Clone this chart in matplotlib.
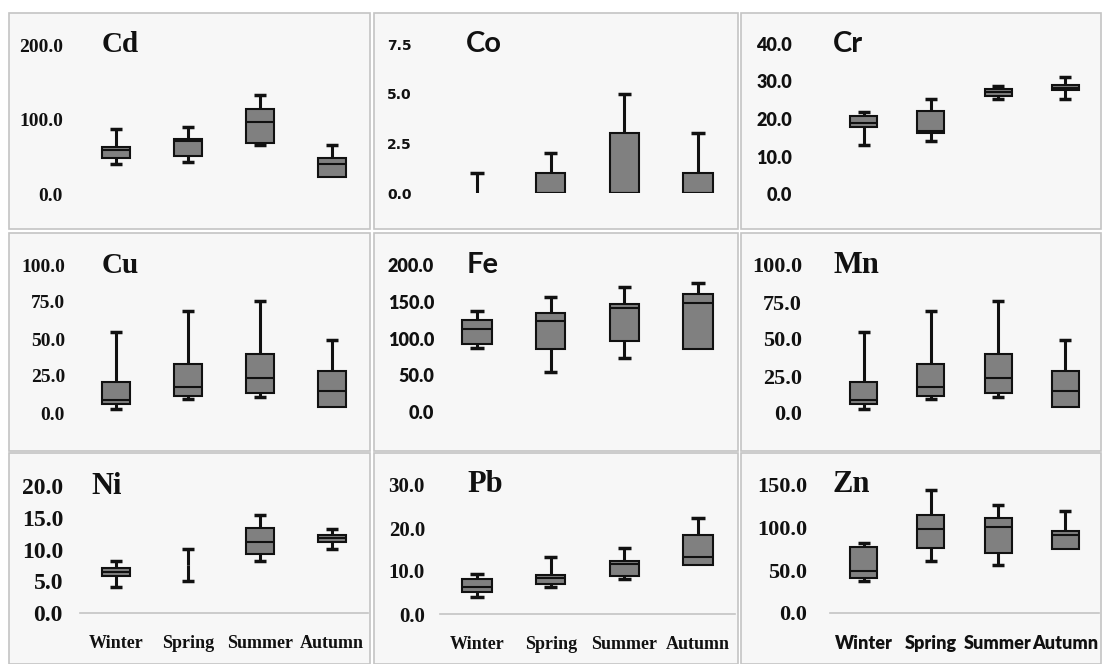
import matplotlib
matplotlib.use("Agg")
import matplotlib.pyplot as plt
from matplotlib.patches import Rectangle

W, H = 1102, 664
seasons = ["Winter", "Spring", "Summer", "Autumn"]
metals = ["Cd", "Co", "Cr", "Cu", "Fe", "Mn", "Ni", "Pb", "Zn"]

# box statistics per season (Winter, Spring, Summer, Autumn)
cd_lo = [40, 43, 66, 23]
cd_q1 = [48, 51, 68, 23]
cd_med = [59, 71, 97, 40]
cd_q3 = [63, 74, 114, 48]
cd_hi = [87, 90, 133, 66]

co_lo = [0, 0, 0, 0]
co_q1 = [0, 0, 0, 0]
co_med = [0, 0, 0, 0]
co_q3 = [0, 1.0, 3.0, 1.0]
co_hi = [1.0, 2.0, 5.0, 3.0]

cr_lo = [13.1, 14.2, 25.3, 25.3]
cr_q1 = [17.9, 16.2, 26.1, 27.7]
cr_med = [19.0, 16.9, 27.2, 28.4]
cr_q3 = [20.8, 22.1, 27.9, 29.0]
cr_hi = [21.9, 25.3, 28.8, 31.1]

cu_lo = [3, 9.5, 11, 4]
cu_q1 = [6, 11.5, 13.5, 4]
cu_med = [9, 17.6, 23.6, 14.9]
cu_q3 = [21, 33, 40, 28.4]
cu_hi = [55, 69, 75.7, 49]

fe_lo = [87, 54, 73, 86]
fe_q1 = [92, 86, 97, 86]
fe_med = [113, 124, 141, 148]
fe_q3 = [125, 135, 147, 161]
fe_hi = [137, 156, 170, 175]

mn_lo = [3, 9.5, 11, 4]
mn_q1 = [6, 11.5, 13.5, 4]
mn_med = [9, 17.6, 23.6, 14.9]
mn_q3 = [21, 33, 40, 28.4]
mn_hi = [55, 69, 75.7, 49]

ni_lo = [4.1, 5.0, 8.2, 10.1]
ni_q1 = [5.8, 7.5, 9.3, 11.2]
ni_med = [6.5, 7.5, 11.2, 11.8]
ni_q3 = [7.1, 7.5, 13.4, 12.3]
ni_hi = [8.2, 10.1, 15.4, 13.2]

pb_lo = [4.0, 6.3, 8.1, 11.4]
pb_q1 = [5.1, 7.0, 8.8, 11.4]
pb_med = [6.3, 8.4, 11.6, 13.3]
pb_q3 = [8.1, 9.1, 12.3, 18.4]
pb_hi = [9.3, 13.3, 15.3, 22.3]

zn_lo = [37, 61, 56, 75]
zn_q1 = [41, 76, 70, 75]
zn_med = [49, 99, 101, 91]
zn_q3 = [77, 115, 111, 96]
zn_hi = [82, 144, 127, 119]

stats = {
    "Cd": (cd_lo, cd_q1, cd_med, cd_q3, cd_hi),
    "Co": (co_lo, co_q1, co_med, co_q3, co_hi),
    "Cr": (cr_lo, cr_q1, cr_med, cr_q3, cr_hi),
    "Cu": (cu_lo, cu_q1, cu_med, cu_q3, cu_hi),
    "Fe": (fe_lo, fe_q1, fe_med, fe_q3, fe_hi),
    "Mn": (mn_lo, mn_q1, mn_med, mn_q3, mn_hi),
    "Ni": (ni_lo, ni_q1, ni_med, ni_q3, ni_hi),
    "Pb": (pb_lo, pb_q1, pb_med, pb_q3, pb_hi),
    "Zn": (zn_lo, zn_q1, zn_med, zn_q3, zn_hi),
}

yticks = {
    "Cd": [0, 100, 200],
    "Co": [0, 2.5, 5.0, 7.5],
    "Cr": [0, 10, 20, 30, 40],
    "Cu": [0, 25, 50, 75, 100],
    "Fe": [0, 50, 100, 150, 200],
    "Mn": [0, 25, 50, 75, 100],
    "Ni": [0, 5, 10, 15, 20],
    "Pb": [0, 10, 20, 30],
    "Zn": [0, 50, 100, 150],
}

# layout in pixels
panel_x = [(9, 370), (374, 738), (741, 1101)]
panel_y = [(13, 229), (233, 451), (453, 664)]
axes_x = [(80, 368), (440, 735), (830, 1099)]
# pixel rows of value 0 and of the top tick
y_zero = {"Cd": 194, "Co": 193, "Cr": 194, "Cu": 413, "Fe": 412, "Mn": 413,
          "Ni": 613, "Pb": 614, "Zn": 613}
y_top = {"Cd": 45, "Co": 44, "Cr": 44, "Cu": 265, "Fe": 265, "Mn": 265,
         "Ni": 486, "Pb": 485, "Zn": 485}
label_right = {"Cd": 63, "Co": 412, "Cr": 792, "Cu": 65, "Fe": 434, "Mn": 802,
               "Ni": 63, "Pb": 425, "Zn": 807}
title_left = {"Cd": 102, "Co": 466, "Cr": 833, "Cu": 102, "Fe": 467, "Mn": 833,
              "Ni": 91, "Pb": 467, "Zn": 833}

SERIF = "Liberation Serif"
SANS = "Lato"
tick_font = {"Cd": (SERIF, 14), "Co": ("DejaVu Sans", 10), "Cr": (SANS, 13),
             "Cu": (SERIF, 14), "Fe": (SANS, 13), "Mn": (SERIF, 16),
             "Ni": (SERIF, 17), "Pb": (SERIF, 15), "Zn": (SERIF, 16)}
title_font = {"Cd": (SERIF, 21), "Co": (SANS, 21), "Cr": (SANS, 21),
              "Cu": (SERIF, 21), "Fe": (SANS, 21), "Mn": (SERIF, 22),
              "Ni": (SERIF, 22), "Pb": (SERIF, 22), "Zn": (SERIF, 22)}
xlab_font = {"Ni": SERIF, "Pb": SERIF, "Zn": SANS}

INK = "#111111"
BOX = "#808080"

fig = plt.figure(figsize=(W / 100, H / 100), dpi=100)
fig.patch.set_facecolor("white")


def fx(px):
    return px / W


def fy(py):
    return 1 - py / H


for i, m in enumerate(metals):
    r, c = divmod(i, 3)
    x0, x1 = panel_x[c]
    ty, by = panel_y[r]
    fig.patches.append(Rectangle((fx(x0), fy(by)), fx(x1 - x0), (by - ty) / H,
                                 transform=fig.transFigure, facecolor="#f7f7f7",
                                 edgecolor="#c4c4c4", linewidth=1.2, zorder=-5))

    ax0, ax1 = axes_x[c]
    ax = fig.add_axes([fx(ax0), fy(y_zero[m]), fx(ax1 - ax0),
                       (y_zero[m] - y_top[m]) / H])
    ax.patch.set_visible(False)
    ax.set_xlim(0.5, 4.5)
    ticks = yticks[m]
    ax.set_ylim(0, ticks[-1])
    ax.set_yticks(ticks)
    fam, fs = tick_font[m]
    wt = "heavy" if fam == SANS else "bold"
    ax.set_yticklabels([f"{t:.1f}" for t in ticks], fontfamily=fam,
                       fontsize=fs, fontweight=wt, color=INK)
    ax.tick_params(axis="y", length=0, pad=(ax0 - label_right[m]) * 0.72)
    for s in ["top", "left", "right", "bottom"]:
        ax.spines[s].set_visible(False)

    if r == 2:
        ax.spines["bottom"].set_visible(True)
        ax.spines["bottom"].set_color("#c4c4c4")
        ax.spines["bottom"].set_linewidth(1.2)
        ax.set_xticks(range(1, 5))
        xw = "heavy" if xlab_font[m] == SANS else "bold"
        ax.set_xticklabels(seasons, fontfamily=xlab_font[m], fontsize=13,
                           fontweight=xw, color=INK)
        ax.tick_params(axis="x", length=0, pad=16)
    else:
        ax.set_xticks([])

    tf, tsz = title_font[m]
    fig.text(fx(title_left[m]), fy(y_top[m]), m, fontfamily=tf, fontsize=tsz,
             fontweight="bold", color=INK, ha="left", va="center")

    lo, q1, med, q3, hi = stats[m]
    pos = list(range(1, 5))
    bw, cw = 0.4, 0.18
    for p, a, b, md, d, e in zip(pos, lo, q1, med, q3, hi):
        if d > b:
            ax.bar(p, d - b, bottom=b, width=bw, color=BOX, edgecolor=INK,
                   linewidth=1.5, zorder=3)
            ax.hlines(md, p - bw / 2, p + bw / 2, color=INK, linewidth=1.5,
                      zorder=4)
        if e > d:
            ax.vlines(p, d, e, color=INK, linewidth=2.2, zorder=2)
            ax.hlines(e, p - cw / 2, p + cw / 2, color=INK, linewidth=2.5,
                      zorder=2)
        if a < b:
            ax.vlines(p, a, b, color=INK, linewidth=2.2, zorder=2)
            ax.hlines(a, p - cw / 2, p + cw / 2, color=INK, linewidth=2.5,
                      zorder=2)

fig.savefig("out.png", dpi=100)
